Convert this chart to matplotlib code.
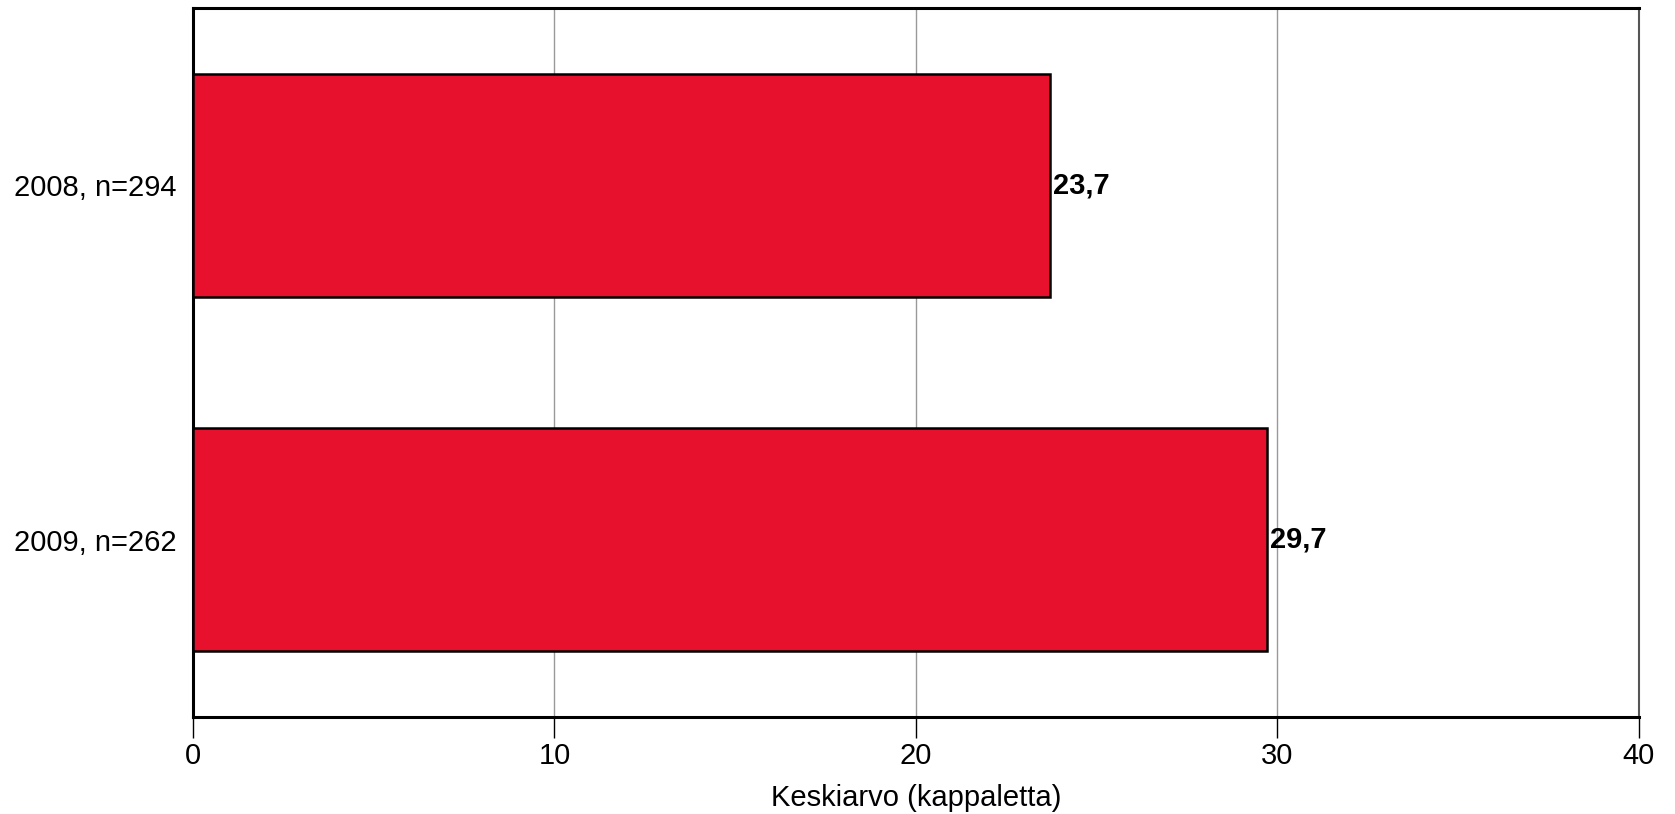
import matplotlib
matplotlib.use("Agg")
import matplotlib.pyplot as plt

plt.rcParams['font.family'] = ['Liberation Sans', 'DejaVu Sans']

labels = ["2008, n=294", "2009, n=262"]
values = [23.7, 29.7]
value_texts = ["23,7", "29,7"]
xticks = [0, 10, 20, 30, 40]

fig = plt.figure(figsize=(16.75, 8.14), dpi=100)
ax = fig.add_axes([0.1152, 0.1192, 0.8633, 0.871])

ypos = list(range(len(labels)))
ax.barh(ypos, values, height=0.63, color="#E8112D", edgecolor="black", linewidth=1.8, zorder=3)

for y, v, t in zip(ypos, values, value_texts):
    ax.text(v + 0.1, y, t, va="center", ha="left", fontsize=21, fontweight="bold", zorder=4)

ax.set_xlim(0, 40)
ax.set_ylim(1.5, -0.5)
ax.set_yticks(ypos)
ax.set_yticklabels(labels, fontsize=21)
ax.set_xticks(xticks)
ax.set_xticklabels([str(x) for x in xticks], fontsize=21)
ax.tick_params(axis="y", length=0, pad=12)
ax.tick_params(axis="x", length=15, width=1, direction="out", pad=3)
ax.xaxis.grid(True, color="#999999", linewidth=1, zorder=0)
ax.set_axisbelow(True)

ax.spines["left"].set_linewidth(2.2)
ax.spines["bottom"].set_linewidth(2.2)
ax.spines["top"].set_linewidth(2.2)
ax.spines["right"].set_color("#555555")
ax.spines["right"].set_linewidth(1.5)

ax.set_xlabel("Keskiarvo (kappaletta)", fontsize=21, labelpad=10)

fig.savefig("out.png", dpi=100)
